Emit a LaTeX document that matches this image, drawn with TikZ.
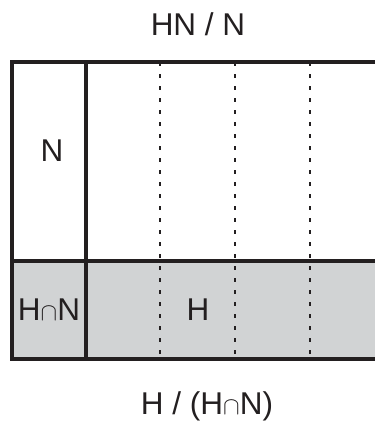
\documentclass[tikz,border=0pt]{standalone}
\usepackage{fontspec}
\setmainfont{Liberation Sans}
\definecolor{cellgray}{HTML}{D1D3D4}
\definecolor{ink}{HTML}{231F20}
\begin{document}
\begin{tikzpicture}[x=1pt,y=-1pt,
  frame/.style={draw=ink,line width=3.4pt},
  dashline/.style={draw=ink,line width=2.4pt,dash pattern=on 4pt off 8pt},
  lbl/.style={font=\fontsize{31.5}{33}\selectfont,text=ink,inner sep=0pt}]
\useasboundingbox (0,0) rectangle (375,426);
\fill[cellgray] (12,261) rectangle (375,359);
\foreach \xx/\nm in {160/d1,235/d2,310/d3}{
  \coordinate (\nm t) at (\xx,62);
  \coordinate (\nm b) at (\xx,359);
  \draw[dashline] (\nm t) -- (\nm b);
}
\coordinate (tl) at (12,62);
\coordinate (tr) at (376,62);
\coordinate (bl) at (12,359);
\coordinate (br) at (376,359);
\coordinate (ml) at (12,261);
\coordinate (mr) at (376,261);
\coordinate (vt) at (86,62);
\coordinate (vb) at (86,359);
\draw[frame] (tr) -- (tl) -- (bl) -- (br);
\draw[frame] (ml) -- (mr);
\draw[frame] (vt) -- (vb);
\node[lbl] (top) at (198,24) {HN / N};
\node[lbl] (bot) at (207,406) {H / (H$\cap$N)};
\node[lbl] (n) at (52,151) {N};
\node[lbl] (h) at (198,310) {H};
\node[lbl] (hn) at (49,310) {H$\cap$N};
\end{tikzpicture}
\end{document}
